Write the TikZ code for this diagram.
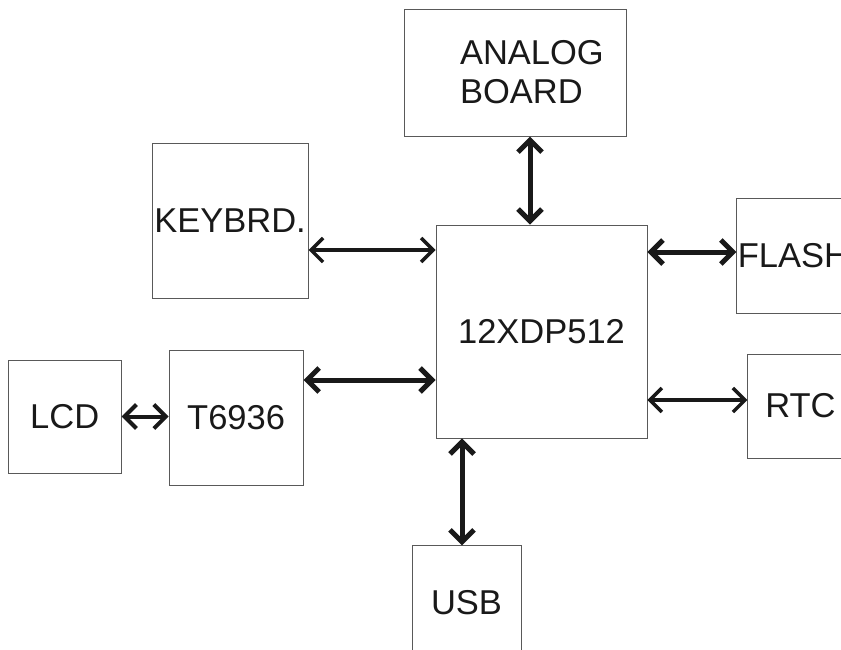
\documentclass[tikz,border=0pt]{standalone}
\usepackage{fontspec}
\setmainfont{Liberation Sans}
\usetikzlibrary{arrows.meta,positioning}

\begin{document}
\begin{tikzpicture}[
    x=1pt, y=-1pt,
    block/.style={rectangle, draw=black!65, line width=0.9pt, inner sep=1pt,
                  font=\fontsize{34.5}{39}\selectfont, text=black!90},
    arrow/.style={<->, >={Straight Barb[length=12pt, width=24pt]}, line width=5pt, color=black!90},
    thinarrow/.style={arrow, line width=3.5pt}
]
    \useasboundingbox (0,0) rectangle (841,649);

    % Processor (center)
    \node[block, minimum width=211pt, minimum height=213pt] (cpu) at (541.5,331.5) {12XDP512};

    % Analog board (top)
    \node[block, minimum width=222pt, minimum height=127pt, text width=110pt, align=flush left,
          above=88pt of cpu, xshift=-26.5pt] (analog) {ANALOG\\BOARD};

    % Keyboard (upper left)
    \node[block, minimum width=156pt, minimum height=155pt, left=127pt of cpu, yshift=111pt] (keybrd) {KEYBRD.};

    % Display driver and LCD (lower left)
    \node[block, minimum width=134pt, minimum height=135pt, left=132pt of cpu, yshift=-86pt] (t6936) {T6936};
    \node[block, minimum width=113pt, minimum height=113pt, left=47pt of t6936, yshift=1pt] (lcd) {LCD};

    % Flash and RTC (right)
    \node[block, minimum height=115pt, right=89pt of cpu, yshift=76pt] (flash) {FLASH};
    \node[block, minimum width=105pt, minimum height=104pt, right=100pt of cpu, yshift=-74.5pt] (rtc) {RTC};

    % USB (bottom)
    \node[block, minimum width=109pt, minimum height=114pt, below=107pt of cpu, xshift=-75pt] (usb) {USB};

    % Bidirectional buses
    \draw[arrow] ([xshift=15pt]analog.south) -- ([xshift=15pt]analog.south |- cpu.north);
    \draw[thinarrow] ([yshift=-29.5pt]keybrd.east) -- ([yshift=-29.5pt]keybrd.east -| cpu.west);
    \draw[arrow] ([yshift=3.5pt]flash.west) -- ([yshift=3.5pt]flash.west -| cpu.east);
    \draw[thinarrow] ([yshift=6pt]rtc.west) -- ([yshift=6pt]rtc.west -| cpu.east);
    \draw[arrow] ([yshift=37.5pt]t6936.east) -- ([yshift=37.5pt]t6936.east -| cpu.west);
    \draw[arrow, line width=4pt] (lcd.east) -- (lcd.east -| t6936.west);
    \draw[arrow] ([xshift=-4.5pt]usb.north) -- ([xshift=-4.5pt]usb.north |- cpu.south);
\end{tikzpicture}
\end{document}
